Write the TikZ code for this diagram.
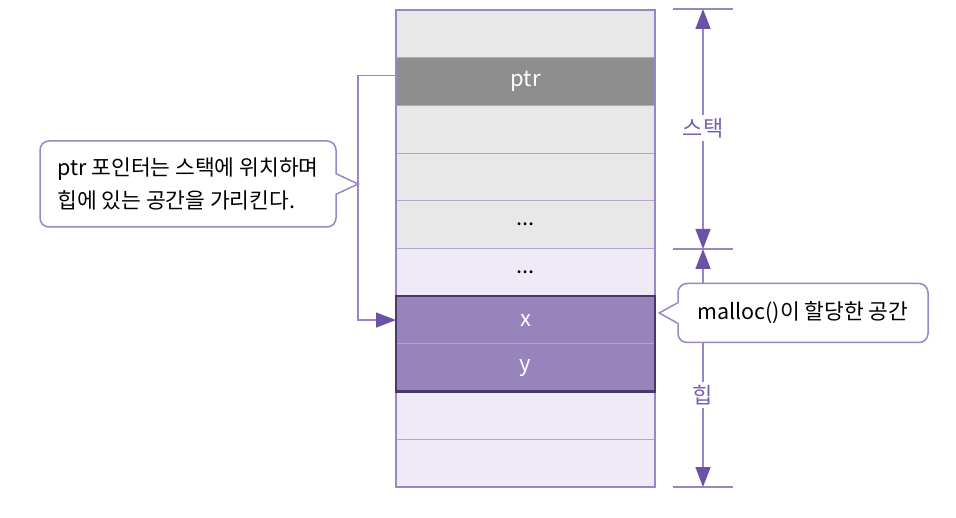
\documentclass[tikz,border=0pt]{standalone}
\usepackage{fontspec}
\setmainfont{Noto Sans CJK KR}
\usepackage{xcolor}
\usepackage{tikz}
\usetikzlibrary{arrows.meta}
\usetikzlibrary{shapes,fit,calc,positioning}

\definecolor{linepurple}{HTML}{9A86C6}
\definecolor{seppurple}{HTML}{B3A4D6}
\definecolor{tippurple}{HTML}{6B52A6}
\definecolor{darkpurple}{HTML}{4A3868}
\definecolor{cellpurple}{HTML}{9884BD}
\definecolor{heaplav}{HTML}{EFEBF6}
\definecolor{stackgray}{HTML}{E8E8E8}
\definecolor{ptrgray}{HTML}{8E8E8E}
\definecolor{lblpurple}{HTML}{7A5FB0}

\tikzset{
  cell/.style={draw=seppurple, line width=1pt, outer sep=0pt, inner sep=0pt,
    minimum width=259pt, minimum height=47.7pt, font=\fontsize{22}{26}\selectfont},
  dimarrow/.style={draw=linepurple, line width=1.6pt, -{Triangle[width=15pt,length=20pt,fill=tippurple,color=tippurple]}},
  tick/.style={draw=linepurple, line width=1.6pt},
  dimlabel/.style={fill=white, text=lblpurple, inner sep=3pt, font=\fontsize{22}{26}\selectfont},
  callout/.style={draw=linepurple, line width=1.5pt, rounded corners=9pt, fill=white,
    font=\fontsize{21.5}{33}\selectfont, align=left, inner sep=0pt}
}

\begin{document}
\begin{tikzpicture}[x=1pt,y=-1pt]
\useasboundingbox (0,0) rectangle (956,518);

% memory column
\node[cell, fill=stackgray] (s1) at (525.5,33.85) {};
\node[cell, fill=ptrgray, text=white, below=0pt of s1] (s2) {ptr};
\node[cell, fill=stackgray, below=0pt of s2] (s3) {};
\node[cell, fill=stackgray, below=0pt of s3] (s4) {};
\node[cell, fill=stackgray, below=0pt of s4] (s5) {...};
\node[cell, fill=heaplav, below=0pt of s5] (s6) {...};
\node[cell, fill=cellpurple, text=white, below=0pt of s6] (s7) {x};
\node[cell, fill=cellpurple, text=white, below=0pt of s7] (s8) {y};
\node[cell, fill=heaplav, below=0pt of s8] (s9) {};
\node[cell, fill=heaplav, below=0pt of s9] (s10) {};

\node[draw=linepurple, line width=2.6pt, fit=(s1)(s10), inner sep=0pt] (mem) {};
\node[draw=darkpurple, line width=2.6pt, fit=(s7)(s8), inner sep=0pt] (alloc) {};

% stack / heap ranges
\coordinate (ttop) at (703,9);
\coordinate (tmid) at (703,249);
\coordinate (tbot) at (703,487);
\draw[tick] (ttop) ++(-30,0) -- ++(60,0);
\draw[tick] (tmid) ++(-30,0) -- ++(60,0);
\draw[tick] (tbot) ++(-30,0) -- ++(60,0);

\node[dimlabel] (stacklbl) at (703,128) {스택};
\node[dimlabel] (heaplbl) at (703,395) {힙};
\draw[dimarrow] (stacklbl) -- (ttop);
\draw[dimarrow] (stacklbl) -- (tmid);
\draw[dimarrow] (heaplbl) -- (tmid);
\draw[dimarrow] (heaplbl) -- (tbot);

% pointer link
\coordinate (bend) at (358,0);
\coordinate (ptrout) at ($(s2.west)+(0,-6)$);
\draw[dimarrow, line width=1.3pt] (ptrout) -- (ptrout -| bend) |- (s7.west);

% notes
\node[callout, minimum width=296pt, minimum height=86pt] (note) at (188,184)
  {ptr 포인터는 스택에 위치하며\\힙에 있는 공간을 가리킨다.};
\coordinate (tipL) at (note.east -| bend);
\fill[white] ($(note.east)+(-2,-10)$) -- (tipL) -- ($(note.east)+(-2,10)$) -- cycle;
\draw[draw=linepurple, line width=1.5pt] ($(note.east)+(0,-10)$) -- (tipL) -- ($(note.east)+(0,10)$);

\node[callout, minimum width=250pt, minimum height=59pt] (mnote) at (803,313)
  {malloc()이 할당한 공간};
\coordinate (tipR) at ($(mnote.west -| alloc.east)+(3,0)$);
\fill[white] ($(mnote.west)+(2,-10)$) -- (tipR) -- ($(mnote.west)+(2,10)$) -- cycle;
\draw[draw=linepurple, line width=1.5pt] ($(mnote.west)+(0,-10)$) -- (tipR) -- ($(mnote.west)+(0,10)$);
\end{tikzpicture}
\end{document}
